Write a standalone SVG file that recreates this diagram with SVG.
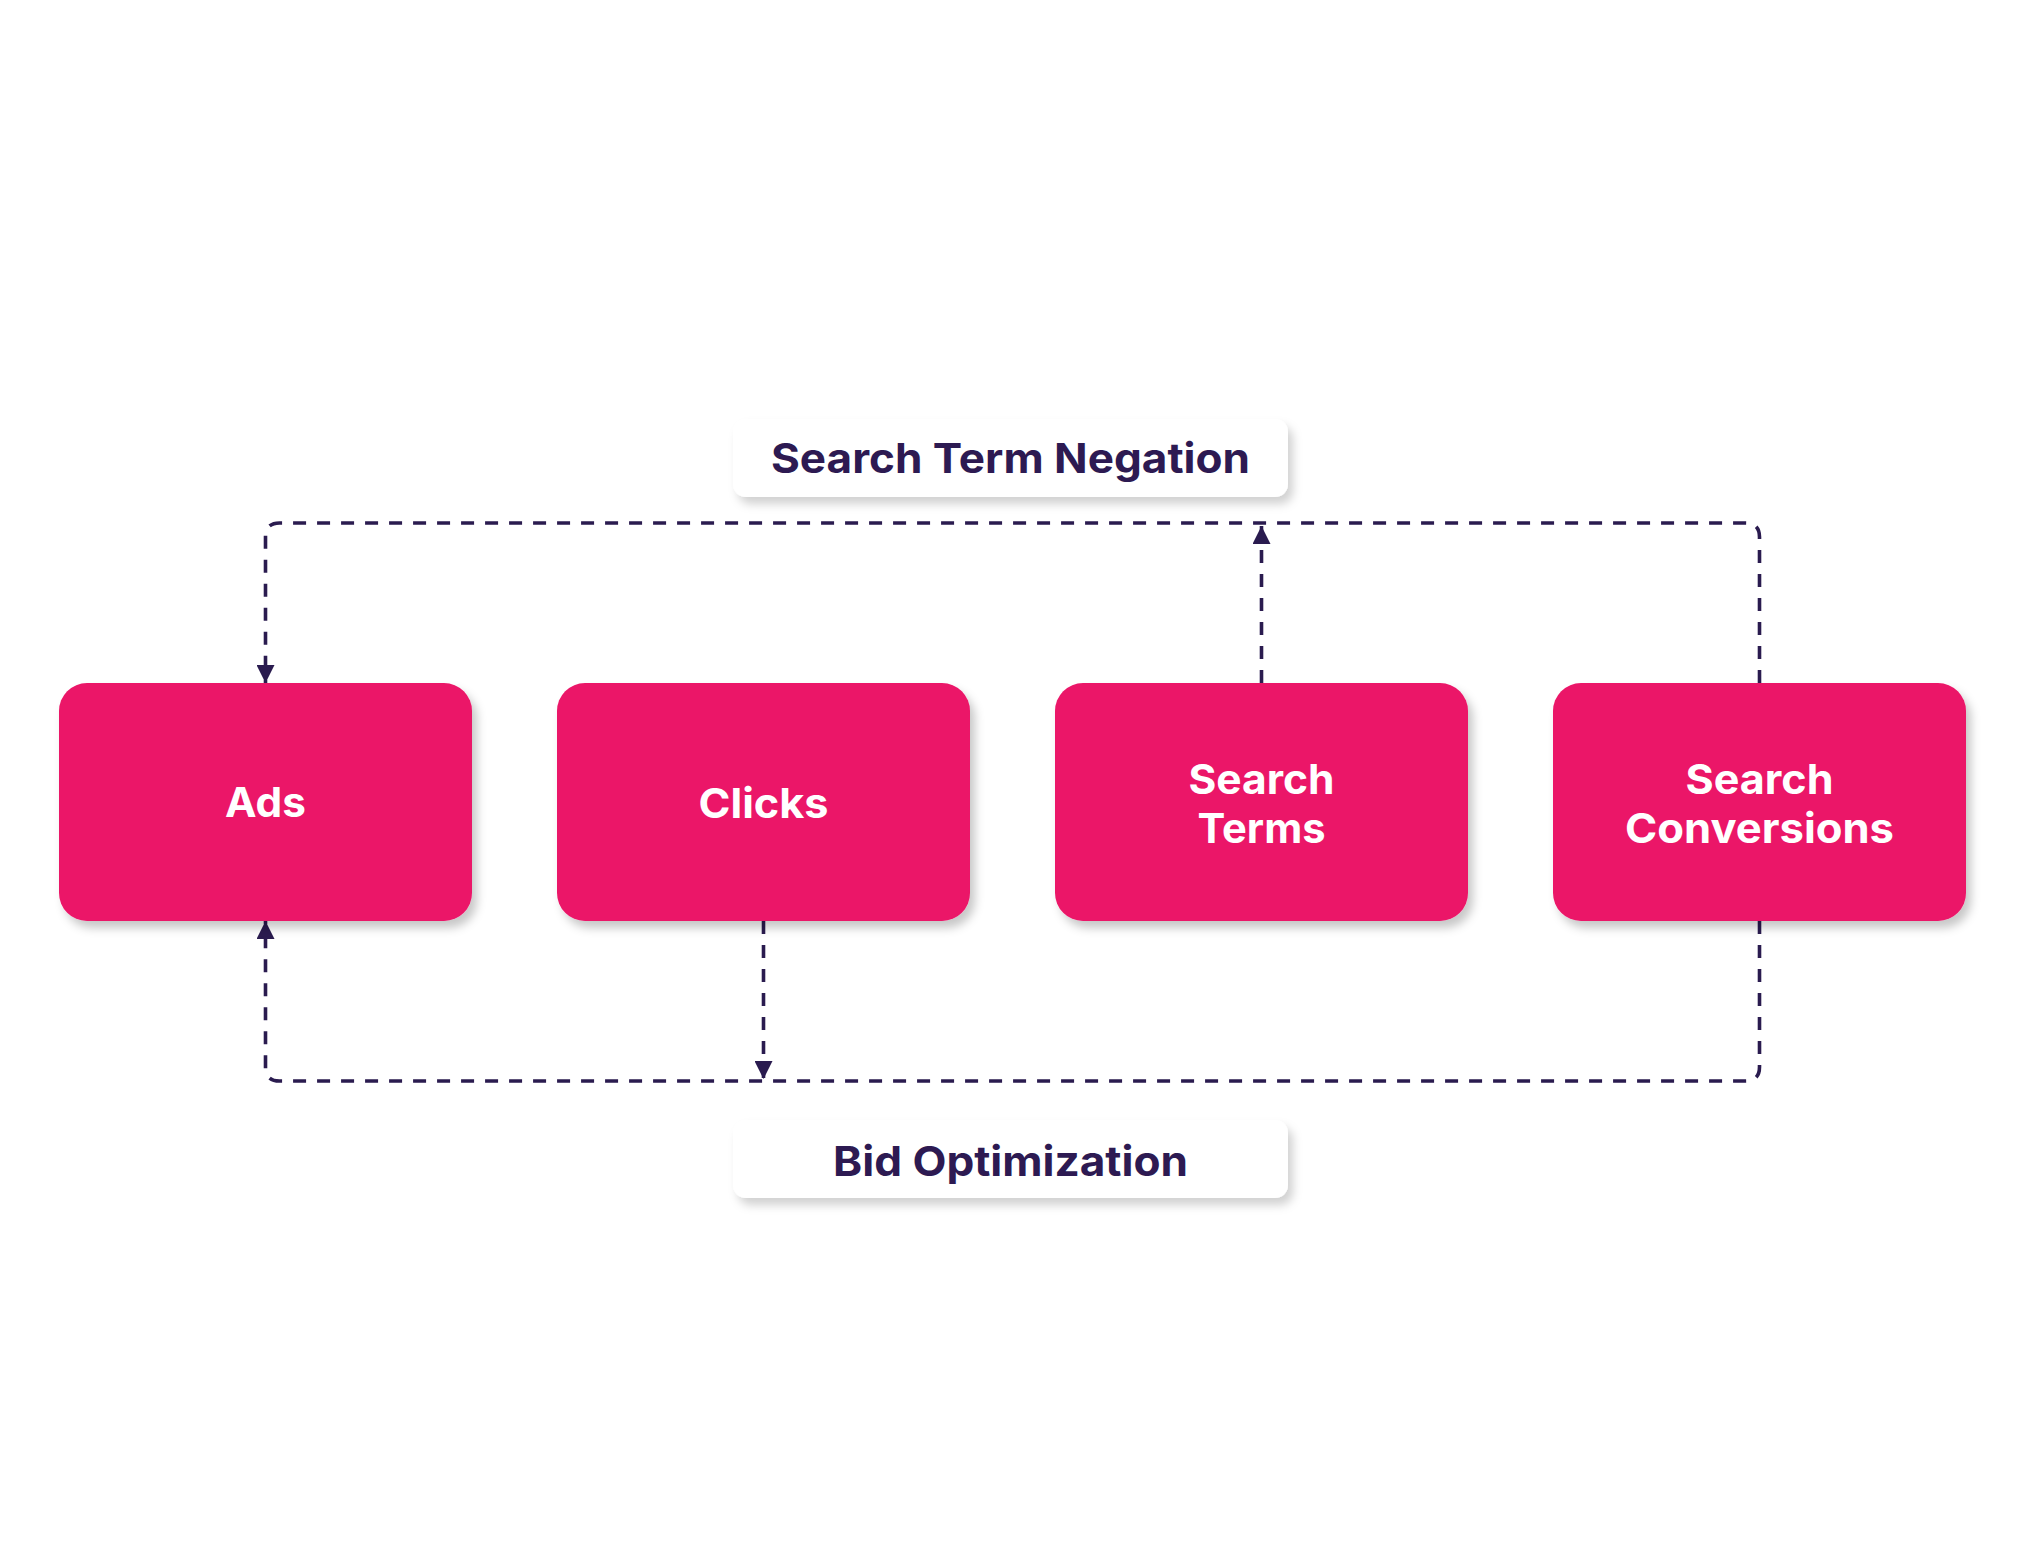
<svg xmlns="http://www.w3.org/2000/svg" width="2022" height="1563" viewBox="0 0 2022 1563">
<defs>
<style>
.node{fill:#EB1568;filter:url(#sh);}
.lbl{fill:#FFFFFF;filter:url(#sh2);}
.nt{font-family:Inter,"Open Sans","Liberation Sans",sans-serif;font-weight:700;font-size:41px;fill:#FFFFFF;text-anchor:middle;}
.lt{font-family:Inter,"Open Sans","Liberation Sans",sans-serif;font-weight:700;font-size:41px;fill:#2D1A52;text-anchor:middle;}
.con{fill:none;stroke:#2A1B4F;stroke-width:3.6;stroke-dasharray:13 11;}
</style>
<filter id="sh" x="-10%" y="-10%" width="125%" height="135%">
<feDropShadow dx="5" dy="7" stdDeviation="5" flood-color="#000" flood-opacity="0.22"/>
</filter>
<filter id="sh2" x="-10%" y="-20%" width="125%" height="160%">
<feDropShadow dx="5" dy="7" stdDeviation="5" flood-color="#000" flood-opacity="0.18"/>
</filter>
<marker id="arr" viewBox="0 0 10 10" refX="10" refY="5" markerWidth="18" markerHeight="18" markerUnits="userSpaceOnUse" orient="auto" preserveAspectRatio="none">
<path d="M0,0 L10,5 L0,10 z" fill="#2A1B4F"/>
</marker>
</defs>
<rect width="2022" height="1563" fill="#FFFFFF"/>

<g id="connectors">
<path class="con" d="M1759.5,683 V537 Q1759.5,523 1745.5,523 H279.5 Q265.5,523 265.5,537 V683" marker-end="url(#arr)"/>
<path class="con" d="M1261.5,683 V526" marker-end="url(#arr)"/>
<path class="con" d="M1759.5,921 V1067 Q1759.5,1081 1745.5,1081 H279.5 Q265.5,1081 265.5,1067 V921" marker-end="url(#arr)"/>
<path class="con" d="M763.5,921 V1079" marker-end="url(#arr)"/>
</g>

<g id="label-negation">
<rect class="lbl" x="733" y="419" width="555" height="78" rx="13"/>
<text class="lt" x="1010.5" y="473" textLength="479" lengthAdjust="spacingAndGlyphs">Search Term Negation</text>
</g>

<g id="label-bid">
<rect class="lbl" x="733" y="1120" width="555" height="78" rx="13"/>
<text class="lt" x="1010.5" y="1176" textLength="355" lengthAdjust="spacingAndGlyphs">Bid Optimization</text>
</g>

<g id="node-ads">
<rect class="node" x="59" y="683" width="413" height="238" rx="28"/>
<text class="nt" x="265.5" y="817" textLength="81" lengthAdjust="spacingAndGlyphs">Ads</text>
</g>

<g id="node-clicks">
<rect class="node" x="557" y="683" width="413" height="238" rx="28"/>
<text class="nt" x="763.5" y="818" textLength="130" lengthAdjust="spacingAndGlyphs">Clicks</text>
</g>

<g id="node-search-terms">
<rect class="node" x="1055" y="683" width="413" height="238" rx="28"/>
<text class="nt" x="1261.5" y="794" textLength="146" lengthAdjust="spacingAndGlyphs">Search</text>
<text class="nt" x="1261.5" y="843" textLength="128" lengthAdjust="spacingAndGlyphs">Terms</text>
</g>

<g id="node-search-conversions">
<rect class="node" x="1553" y="683" width="413" height="238" rx="28"/>
<text class="nt" x="1759.5" y="794" textLength="148" lengthAdjust="spacingAndGlyphs">Search</text>
<text class="nt" x="1759.5" y="843" textLength="269" lengthAdjust="spacingAndGlyphs">Conversions</text>
</g>
</svg>
